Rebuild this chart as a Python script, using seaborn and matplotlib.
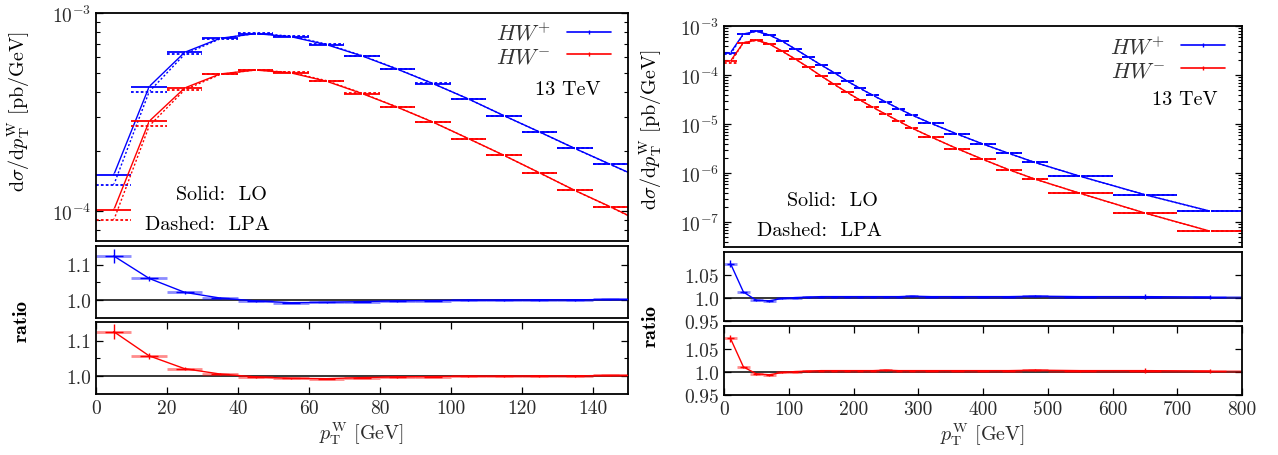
import numpy as np
import matplotlib
matplotlib.use("Agg")
import matplotlib.pyplot as plt
import seaborn as sns
from matplotlib.lines import Line2D
from matplotlib.ticker import LogLocator, FixedLocator, NullFormatter, FuncFormatter, NullLocator

# ---------------- data: W transverse-momentum spectra at 13 TeV ----------------
# low-pT view: 10 GeV bins (last bin lies just beyond the drawn range)
edges_low = [0, 10, 20, 30, 40, 50, 60, 70, 80, 90, 100, 110, 120, 130, 140, 150, 160]
lo_hwp_low = [1.52e-4, 4.25e-4, 6.33e-4, 7.45e-4, 7.87e-4, 7.59e-4, 6.92e-4, 6.07e-4,
              5.20e-4, 4.40e-4, 3.68e-4, 3.03e-4, 2.51e-4, 2.07e-4, 1.72e-4, 1.43e-4]
lo_hwm_low = [1.01e-4, 2.84e-4, 4.18e-4, 4.92e-4, 5.15e-4, 4.98e-4, 4.52e-4, 3.92e-4,
              3.34e-4, 2.81e-4, 2.32e-4, 1.91e-4, 1.56e-4, 1.27e-4, 1.05e-4, 8.6e-5]
ratio_hwp_low = [1.124, 1.061, 1.022, 1.006, 0.998, 0.993, 0.994, 0.996,
                 0.998, 0.999, 1.000, 1.000, 1.001, 1.001, 1.002, 1.002]
ratio_hwm_low = [1.125, 1.057, 1.021, 1.006, 0.998, 0.994, 0.993, 0.996,
                 0.998, 0.999, 1.000, 1.000, 1.001, 1.001, 1.002, 1.002]
err_low = [0.020, 0.008, 0.005, 0.003, 0.002, 0.002, 0.002, 0.002,
           0.002, 0.002, 0.002, 0.002, 0.002, 0.002, 0.002, 0.002]

# full range: 20 GeV bins to 300, 40 GeV bins to 500, 100 GeV bins to 800
edges_full = [0, 20, 40, 60, 80, 100, 120, 140, 160, 180, 200, 220, 240, 260, 280, 300,
              340, 380, 420, 460, 500, 600, 700, 800]
lo_hwp_full = [2.86e-4, 6.87e-4, 7.80e-4, 6.56e-4, 4.88e-4, 3.40e-4, 2.33e-4, 1.60e-4,
               1.12e-4, 7.55e-5, 5.36e-5, 3.85e-5, 2.81e-5, 2.06e-5, 1.53e-5, 1.03e-5,
               6.25e-6, 3.91e-6, 2.52e-6, 1.65e-6, 8.60e-7, 3.62e-7, 1.68e-7]
lo_hwm_full = [1.93e-4, 4.58e-4, 5.11e-4, 4.30e-4, 3.05e-4, 2.12e-4, 1.44e-4, 9.55e-5,
               6.46e-5, 4.43e-5, 3.09e-5, 2.19e-5, 1.58e-5, 1.14e-5, 8.28e-6, 5.43e-6,
               3.15e-6, 1.90e-6, 1.17e-6, 7.55e-7, 3.86e-7, 1.53e-7, 6.55e-8]
ratio_hwp_full = [1.075, 1.013, 0.995, 0.994, 0.999, 1.001, 1.002, 1.003, 1.003, 1.003,
                  1.003, 1.003, 1.003, 1.003, 1.004, 1.003, 1.003, 1.003, 1.003, 1.004,
                  1.003, 1.003, 1.002]
ratio_hwm_full = [1.073, 1.011, 0.996, 0.994, 0.999, 1.001, 1.002, 1.003, 1.003, 1.003,
                  1.003, 1.003, 1.004, 1.003, 1.003, 1.003, 1.003, 1.003, 1.003, 1.004,
                  1.003, 1.003, 1.002]
err_full = [0.008, 0.003, 0.002, 0.002, 0.001, 0.001, 0.001, 0.001, 0.001, 0.001,
            0.001, 0.001, 0.001, 0.001, 0.001, 0.001, 0.001, 0.001, 0.001, 0.002,
            0.002, 0.005, 0.005]

series_labels = [r"$HW^{+}$", r"$HW^{-}$"]
energy_label = "13 TeV"

# ---------------- style ----------------
sns.set_theme(style="ticks")
plt.rcParams["font.family"] = ["cmr10", "DejaVu Serif"]
plt.rcParams["mathtext.fontset"] = "cm"
plt.rcParams["axes.formatter.use_mathtext"] = True
plt.rcParams["axes.unicode_minus"] = False
plt.rcParams["axes.linewidth"] = 1.3
plt.rcParams["axes.edgecolor"] = "black"

BLUE = "#0000ff"
RED = "#ff0000"
TXT = "#2b2b2b"
FS_TICK = 14
FS_LAB = 14.5

W, H = 1278, 456
fig = plt.figure(figsize=(W / 100, H / 100), dpi=100)


def box(x0, y0, x1, y1):
    return [x0 / W, 1 - y1 / H, (x1 - x0) / W, (y1 - y0) / H]


def log_fmt(v, pos):
    e = int(round(np.log10(v)))
    return r"$10^{%d}$" % e


def draw_spectrum(ax, edges, lo, ratio, color):
    e = np.asarray(edges, float)
    c = 0.5 * (e[:-1] + e[1:])
    lo = np.asarray(lo, float)
    lpa = lo / np.asarray(ratio, float)
    # LO: solid line through bin centres plus per-bin levels
    sns.lineplot(x=c, y=lo, ax=ax, color=color, lw=1.0, estimator=None, sort=False,
                 marker="|", markersize=3, markeredgewidth=0.8)
    ax.hlines(lo, e[:-1], e[1:], color=color, lw=1.3)
    # LPA: dotted
    sns.lineplot(x=c, y=lpa, ax=ax, color=color, lw=1.0, estimator=None, sort=False,
                 linestyle=(0, (1.5, 1.5)), marker="|", markersize=3, markeredgewidth=0.8)
    ax.hlines(lpa, e[:-1], e[1:], color=color, lw=1.3, linestyles=(0, (1.5, 1.2)))


def draw_ratio(ax, edges, ratio, err, color):
    e = np.asarray(edges, float)
    c = 0.5 * (e[:-1] + e[1:])
    r = np.asarray(ratio, float)
    ax.axhline(1.0, color="black", lw=1.1, zorder=1)
    ax.hlines(r, e[:-1], e[1:], color=color, lw=2.0, alpha=0.45, zorder=2)
    ax.vlines(c, r - np.asarray(err), r + np.asarray(err), color=color, lw=1.0, zorder=3)
    ax.hlines(r, c - 0.25 * (e[1:] - e[:-1]), c + 0.25 * (e[1:] - e[:-1]),
              color=color, lw=1.0, zorder=3)
    sns.lineplot(x=c, y=r, ax=ax, color=color, lw=1.0, estimator=None, sort=False, zorder=4)


def style_axes(ax, xlim, show_x):
    ax.set_xlim(*xlim)
    ax.set_xlabel("")
    ax.set_ylabel("")
    ax.tick_params(which="both", direction="in", colors="black", labelcolor=TXT,
                   labelsize=FS_TICK, left=True, right=True)
    ax.tick_params(which="major", length=5, width=0.9)
    ax.tick_params(which="minor", length=3, width=0.8)
    if show_x:
        ax.tick_params(axis="x", which="both", top=True, bottom=True, labelbottom=True)
    else:
        ax.tick_params(axis="x", which="both", top=False, bottom=False, labelbottom=False)
    for s in ax.spines.values():
        s.set_visible(True)
        s.set_linewidth(1.3)


def build(geom, edges, lo_p, lo_m, r_p, r_m, err, xlim, xticks, ylim_top,
          ylim_ratio, rticks, rminor, rfmt, note_pos, leg_anchor, tev_pos,
          ylab_pos, ratio_pos, xlab_pos):
    top, r1, r2 = geom
    ax = fig.add_axes(box(*top))
    ax1 = fig.add_axes(box(*r1))
    ax2 = fig.add_axes(box(*r2))

    draw_spectrum(ax, edges, lo_p, r_p, BLUE)
    draw_spectrum(ax, edges, lo_m, r_m, RED)
    ax.set_yscale("log")
    ax.set_ylim(*ylim_top)
    style_axes(ax, xlim, False)
    ax.yaxis.set_major_locator(LogLocator(base=10, numticks=12))
    ax.yaxis.set_minor_locator(LogLocator(base=10, subs=np.arange(2, 10), numticks=12))
    ax.yaxis.set_major_formatter(FuncFormatter(log_fmt))
    ax.yaxis.set_minor_formatter(NullFormatter())

    handles = [Line2D([], [], color=BLUE, lw=1.2, marker="|", markersize=3),
               Line2D([], [], color=RED, lw=1.2, marker="|", markersize=3)]
    leg = ax.legend(handles, series_labels, loc="upper right", bbox_to_anchor=leg_anchor,
                    frameon=False, markerfirst=False, fontsize=16, handlelength=2.0,
                    handletextpad=0.7, labelspacing=0.15, borderaxespad=0, borderpad=0)
    for t in leg.get_texts():
        t.set_color("#333333")
    ax.text(*tev_pos, energy_label, transform=ax.transAxes, ha="center", va="center",
            fontsize=FS_LAB, color="black")
    ax.text(*note_pos[0], "Solid:  LO", transform=ax.transAxes, ha="center", va="center",
            fontsize=FS_LAB, color="black")
    ax.text(*note_pos[1], "Dashed:  LPA", transform=ax.transAxes, ha="center", va="center",
            fontsize=FS_LAB, color="black")

    draw_ratio(ax1, edges, r_p, err, BLUE)
    draw_ratio(ax2, edges, r_m, err, RED)
    for a, show in ((ax1, False), (ax2, True)):
        a.set_ylim(*ylim_ratio)
        style_axes(a, xlim, show)
        a.yaxis.set_major_locator(FixedLocator(rticks))
        a.yaxis.set_minor_locator(FixedLocator(rminor))
        a.yaxis.set_major_formatter(FuncFormatter(rfmt))
    ax2.xaxis.set_major_locator(FixedLocator(xticks))
    ax2.xaxis.set_minor_locator(NullLocator())
    ax2.xaxis.set_major_formatter(FuncFormatter(lambda v, p: "%d" % v))

    fig.text(ylab_pos[0] / W, 1 - ylab_pos[1] / H,
             r"$\mathrm{d}\sigma/\mathrm{d}p_{\mathrm{T}}^{\mathrm{W}}$ [pb/GeV]",
             rotation=90, ha="center", va="center", fontsize=FS_LAB, color="black")
    fig.text(ratio_pos[0] / W, 1 - ratio_pos[1] / H, r"$\mathbf{ratio}$",
             rotation=90, ha="center", va="center", fontsize=FS_LAB, color="black")
    fig.text(xlab_pos[0] / W, 1 - xlab_pos[1] / H,
             r"$p_{\mathrm{T}}^{\mathrm{W}}$ [GeV]", ha="center", va="center",
             fontsize=FS_LAB, color=TXT)


# low-pT view
build(geom=((96, 14, 628, 242), (96, 247, 628, 319), (96, 323, 628, 395)),
      edges=edges_low, lo_p=lo_hwp_low, lo_m=lo_hwm_low,
      r_p=ratio_hwp_low, r_m=ratio_hwm_low, err=err_low,
      xlim=(0, 150), xticks=np.arange(0, 141, 20), ylim_top=(7.05e-5, 1e-3),
      ylim_ratio=(0.95, 1.152), rticks=[1.0, 1.1], rminor=[1.05],
      rfmt=lambda v, p: "%.1f" % v,
      note_pos=((0.235, 0.206), (0.21, 0.075)), leg_anchor=(0.968, 0.965),
      tev_pos=(0.887, 0.668), ylab_pos=(19, 112), ratio_pos=(22, 321), xlab_pos=(362, 434))

# full-range view
build(geom=((724, 27, 1242, 248), (724, 253, 1242, 322), (724, 327, 1242, 396)),
      edges=edges_full, lo_p=lo_hwp_full, lo_m=lo_hwm_full,
      r_p=ratio_hwp_full, r_m=ratio_hwm_full, err=err_full,
      xlim=(0, 800), xticks=np.arange(0, 801, 100), ylim_top=(3.1e-8, 1e-3),
      ylim_ratio=(0.95, 1.10), rticks=[0.95, 1.0, 1.05], rminor=[],
      rfmt=lambda v, p: ("%.1f" % v) if abs(v - 1.0) < 1e-9 else ("%.2f" % v),
      note_pos=((0.2095, 0.213), (0.184, 0.077)), leg_anchor=(0.968, 0.96),
      tev_pos=(0.889, 0.67), ylab_pos=(651, 130), ratio_pos=(651, 326), xlab_pos=(983, 435))

fig.savefig("out.png", dpi=100)
